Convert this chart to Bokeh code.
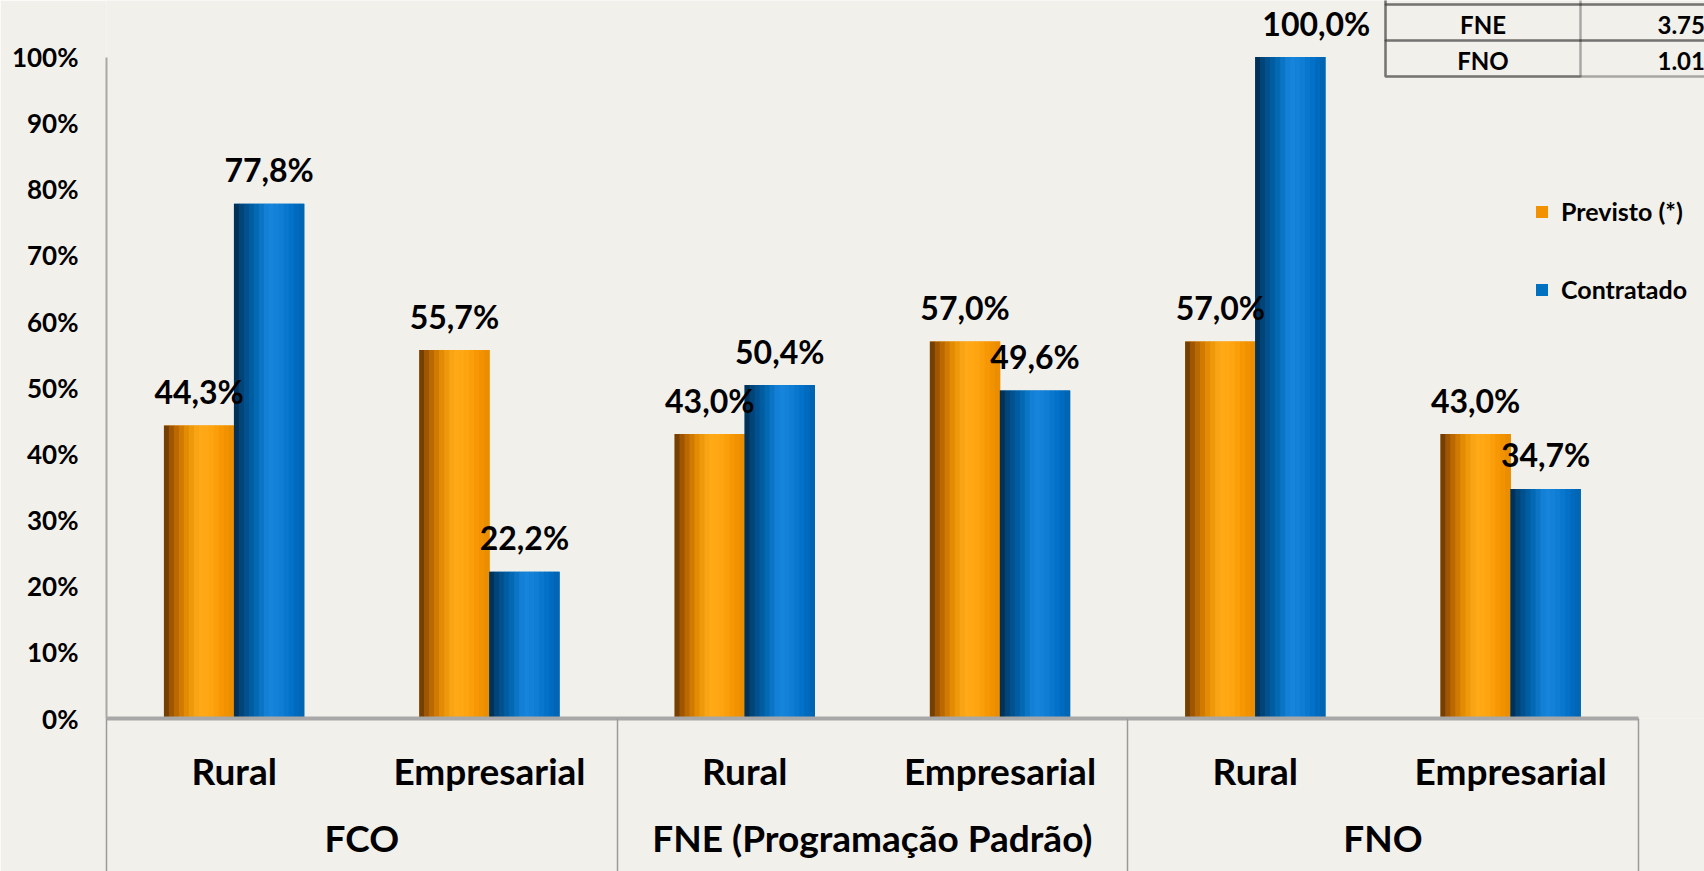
from bokeh.plotting import figure
from bokeh.models import (ColumnDataSource, FixedTicker, LinearAxis, Range1d,
                          Legend, LegendItem, Label, BoxAnnotation)
from bokeh.transform import dodge
from bokeh.core.properties import value
from bokeh.embed import file_html
from bokeh.resources import INLINE

# ---------------- data ----------------
subcategories = ["Rural", "Empresarial", "Rural", "Empresarial", "Rural", "Empresarial"]
groups = ["FCO", "FNE (Programação Padrão)", "FNO"]
previsto = [44.3, 55.7, 43.0, 57.0, 57.0, 43.0]
contratado = [77.8, 22.2, 50.4, 49.6, 100.0, 34.7]
series_names = ["Previsto (*)", "Contratado"]
y_ticks = [0, 10, 20, 30, 40, 50, 60, 70, 80, 90, 100]
table_rows = ["FNE", "FNO"]
table_values = ["3.75", "1.01"]

# ---------------- layout ----------------
W, H = 1704, 871
L_BORDER, B_BORDER = 106, 153
frame_h = H - B_BORDER
px_per_pct = (frame_h - 56.5) / 100.0
y_end = frame_h / px_per_pct
cat_px = 255.3
x_end = (W - L_BORDER) / cat_px
bar_w = 70.0 / cat_px

BG = "#f2f0eb"
FONT = "Lato"
SEP = 153

def fmt(v):
    return ("%.1f" % v).replace(".", ",") + "%"

n = len(subcategories)
xs = [i + 0.5 for i in range(n)]
src = ColumnDataSource(dict(
    x=xs,
    previsto=previsto,
    contratado=contratado,
    lab_p=[fmt(v) for v in previsto],
    lab_c=[fmt(v) for v in contratado],
    xoff_c=[26 if v >= 100 else 0 for v in contratado],
))

p = figure(width=W, height=H, x_range=Range1d(0, x_end), y_range=Range1d(0, y_end),
           output_backend="svg", toolbar_location=None,
           x_axis_type=None, y_axis_type=None,
           min_border_left=L_BORDER, min_border_right=0, min_border_top=0,
           min_border_bottom=B_BORDER)
p.background_fill_color = BG
p.border_fill_color = BG
p.outline_line_color = None

# ---------------- axes ----------------
yaxis = LinearAxis(ticker=FixedTicker(ticks=y_ticks, minor_ticks=[]),
                   major_label_overrides={t: f"{t}%" for t in y_ticks})
yaxis.bounds = (0, 100)
yaxis.axis_line_color = "#a8a8a8"
yaxis.axis_line_width = 2
yaxis.major_tick_out = 0
yaxis.major_tick_in = 0
yaxis.minor_tick_out = 0
yaxis.major_label_standoff = 28
yaxis.major_label_text_font = FONT
yaxis.major_label_text_font_style = "bold"
yaxis.major_label_text_font_size = "26px"
yaxis.major_label_text_color = "#000000"
p.add_layout(yaxis, "left")

group_edges = [0, 2, 4, 6]
xaxis = LinearAxis(ticker=FixedTicker(ticks=xs, minor_ticks=group_edges),
                   major_label_overrides={x: s for x, s in zip(xs, subcategories)})
xaxis.bounds = (0, n)
xaxis.axis_line_color = "#a8a8a8"
xaxis.axis_line_width = 4
xaxis.major_tick_out = 0
xaxis.major_tick_in = 0
xaxis.minor_tick_out = SEP
xaxis.minor_tick_in = 0
xaxis.minor_tick_line_color = "#9a9a9a"
xaxis.minor_tick_line_width = 1.5
xaxis.major_label_standoff = 29 - SEP
xaxis.major_label_text_font = FONT
xaxis.major_label_text_font_style = "bold"
xaxis.major_label_text_font_size = "37px"
xaxis.major_label_text_color = "#000000"
p.add_layout(xaxis, "below")

group_x = [1, 3, 5]
gaxis = LinearAxis(ticker=FixedTicker(ticks=group_x, minor_ticks=[]),
                   major_label_overrides={x: g for x, g in zip(group_x, groups)})
gaxis.axis_line_color = None
gaxis.major_tick_out = 0
gaxis.major_tick_in = 0
gaxis.minor_tick_out = 0
gaxis.major_label_standoff = 19
gaxis.major_label_text_font = FONT
gaxis.major_label_text_font_style = "bold"
gaxis.major_label_text_font_size = "37px"
gaxis.major_label_text_color = "#000000"
p.add_layout(gaxis, "below")

# ---------------- bars with cylinder shading ----------------
def hex2rgb(h):
    h = h.lstrip("#")
    return tuple(int(h[i:i + 2], 16) for i in (0, 2, 4))

def grad(stops, t):
    for (t0, c0), (t1, c1) in zip(stops[:-1], stops[1:]):
        if t0 <= t <= t1:
            a = (t - t0) / (t1 - t0) if t1 > t0 else 0
            r0, g0, b0 = hex2rgb(c0)
            r1, g1, b1 = hex2rgb(c1)
            return "#%02x%02x%02x" % (round(r0 + (r1 - r0) * a),
                                      round(g0 + (g1 - g0) * a),
                                      round(b0 + (b1 - b0) * a))
    return stops[-1][1]

orange_stops = [(0.0, "#5e3300"), (0.12, "#a85a00"), (0.3, "#e08800"),
                (0.5, "#ffaa18"), (0.65, "#ffa614"), (0.85, "#f59500"), (1.0, "#e88a00")]
blue_stops = [(0.0, "#00284a"), (0.12, "#00477e"), (0.3, "#0065ae"),
              (0.5, "#1886de"), (0.65, "#127fd6"), (0.85, "#006fc4"), (1.0, "#0062ae")]

N = 14
series = [("previsto", -bar_w / 2, orange_stops, "#f39200"),
          ("contratado", bar_w / 2, blue_stops, "#0070c0")]
base_renderers = []
for col, off, stops, base in series:
    r = p.vbar(x=dodge("x", off, range=p.x_range), top=col, width=bar_w,
               fill_color=base, line_color=None, source=src)
    base_renderers.append(r)
    sw = bar_w / N
    for k in range(N):
        t = (k + 0.5) / N
        o = off - bar_w / 2 + (k + 0.5) * sw
        p.vbar(x=dodge("x", o, range=p.x_range), top=col, width=sw * 1.1,
               fill_color=grad(stops, t), line_color=None, source=src)

# ---------------- value labels ----------------
LBL_DY = -34
p.text(x=dodge("x", -bar_w / 2, range=p.x_range), y="previsto", text="lab_p",
       source=src, text_align="center", text_baseline="alphabetic", y_offset=LBL_DY,
       text_font=value(FONT), text_font_style="bold", text_font_size="32px",
       text_color="#000000")
p.text(x=dodge("x", bar_w / 2, range=p.x_range), y="contratado", text="lab_c",
       source=src, text_align="center", text_baseline="alphabetic", y_offset=LBL_DY,
       x_offset="xoff_c",
       text_font=value(FONT), text_font_style="bold", text_font_size="32px",
       text_color="#000000")

# ---------------- legend ----------------
legend = Legend(items=[LegendItem(label=series_names[0], renderers=[base_renderers[0]]),
                       LegendItem(label=series_names[1], renderers=[base_renderers[1]])],
                location=(1428, 414), orientation="vertical",
                glyph_width=15, glyph_height=15, label_standoff=12,
                spacing=48, label_height=28, padding=0, margin=0,
                border_line_color=None, background_fill_alpha=0,
                label_text_font=FONT, label_text_font_style="bold",
                label_text_font_size="25px", label_text_color="#000000")
p.add_layout(legend)

# ---------------- partial table (top right) ----------------
TBL_L, TBL_DIV, TBL_R = 1385, 1580, 1780
for top, bottom in [(-40, 4), (4, 40), (40, 76)]:
    p.add_layout(BoxAnnotation(left=TBL_L, right=TBL_R, top=top, bottom=bottom,
                               left_units="canvas", right_units="canvas",
                               top_units="canvas", bottom_units="canvas",
                               fill_alpha=0, line_color="#000000", line_width=2.5))
p.add_layout(BoxAnnotation(left=TBL_L, right=TBL_DIV, top=-40, bottom=76,
                           left_units="canvas", right_units="canvas",
                           top_units="canvas", bottom_units="canvas",
                           fill_alpha=0, line_color="#000000", line_width=2.5))
for i, (nm, vl) in enumerate(zip(table_rows, table_values)):
    yy = frame_h - (24 + 36 * i)
    p.add_layout(Label(x=(TBL_L + TBL_DIV) / 2 - L_BORDER, y=yy,
                       x_units="screen", y_units="screen", text=nm,
                       text_align="center", text_baseline="middle",
                       text_font=FONT, text_font_style="bold",
                       text_font_size="24px", text_color="#000000"))
    p.add_layout(Label(x=1657 - L_BORDER, y=yy, x_units="screen", y_units="screen",
                       text=vl, text_align="left", text_baseline="middle",
                       text_font=FONT, text_font_style="bold",
                       text_font_size="24px", text_color="#000000"))

open("out.html", "w").write(file_html(p, INLINE))
